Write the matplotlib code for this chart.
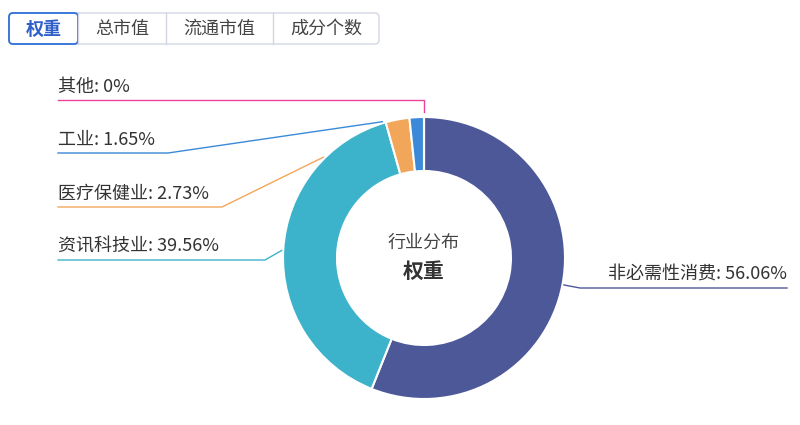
import numpy as np
import matplotlib
matplotlib.use("Agg")
import matplotlib.pyplot as plt
from matplotlib.patches import FancyBboxPatch

plt.rcParams["font.family"] = ["Noto Sans CJK SC", "DejaVu Sans"]

# data
sectors = ["非必需性消费", "资讯科技业", "医疗保健业", "工业", "其他"]
weights = [56.06, 39.56, 2.73, 1.65, 0.0]
labels = ["非必需性消费: 56.06%", "资讯科技业: 39.56%", "医疗保健业: 2.73%",
          "工业: 1.65%", "其他: 0%"]
colors = ["#4d5899", "#3db3cb", "#f2a65a", "#3a8ad8", "#e8459a"]
tabs = ["权重", "总市值", "流通市值", "成分个数"]
center_title = "行业分布"
center_sub = "权重"

fig = plt.figure(figsize=(8, 4.25), dpi=100)
ax = fig.add_axes([0, 0, 1, 1])

cx, cy, r_out, r_in = 424, 258, 141, 87

# donut; y axis inverted so counterclock in data = clockwise on screen
wedges, _ = ax.pie(weights, colors=colors, startangle=-90, counterclock=True,
                   radius=r_out, center=(cx, cy), frame=True,
                   wedgeprops=dict(width=r_out - r_in, edgecolor="white", linewidth=1.5))
ax.set_xlim(0, 800)
ax.set_ylim(425, 0)
ax.axis("off")

ax.text(cx, cy - 15, center_title, ha="center", va="center", fontsize=13, color="#444444")
ax.text(cx, cy + 13, center_sub, ha="center", va="center", fontsize=15,
        fontweight="bold", color="#333333")

# label layout: text x, underline y, elbow x, side, anchor angle override (deg, screen, from top ccw)
layout = {
    "非必需性消费": (787, 288, 580, "right", None),
    "资讯科技业": (58, 260, 265, "left", None),
    "医疗保健业": (58, 207, 222, "left", 45),
    "工业": (58, 153, 168, "left", 17),
    "其他": (58, 100, None, "left", None),
}

for w, name, lab, col in zip(wedges, sectors, labels, colors):
    tx, ly, ex, side, ang = layout[name]
    if ang is None:
        mid = np.deg2rad((w.theta1 + w.theta2) / 2)
    else:
        mid = np.deg2rad(-90 - ang)
    px = cx + (r_out + 1.5) * np.cos(mid)
    py = cy + (r_out + 1.5) * np.sin(mid)
    ax.text(tx, ly - 4, lab, ha=side, va="bottom", fontsize=13, color="#333333")
    if name == "其他":
        ax.plot([tx, px, px], [ly, ly, py - 4], color=col, lw=1)
    else:
        ax.plot([tx, ex, px], [ly, ly, py], color=col, lw=1)

# tab bar
tab_edges = [9, 78, 166, 273, 379]
ax.add_patch(FancyBboxPatch((tab_edges[0], 13), tab_edges[-1] - tab_edges[0], 31,
                            boxstyle="round,pad=0,rounding_size=4", fc="white",
                            ec="#d3d6e4", lw=1))
for i, name in enumerate(tabs):
    x0, x1 = tab_edges[i], tab_edges[i + 1]
    if i > 0:
        ax.plot([x0, x0], [13, 44], color="#d3d6e4", lw=1)
    if i == 0:
        ax.add_patch(FancyBboxPatch((x0, 13), x1 - x0, 31,
                                    boxstyle="round,pad=0,rounding_size=4",
                                    fc="white", ec="#2f6fd8", lw=1.3))
        ax.text((x0 + x1) / 2, 29, name, ha="center", va="center", fontsize=13,
                fontweight="bold", color="#2f5fc8")
    else:
        ax.text((x0 + x1) / 2, 29, name, ha="center", va="center", fontsize=13,
                color="#444444")

fig.savefig("out.png", dpi=100)
